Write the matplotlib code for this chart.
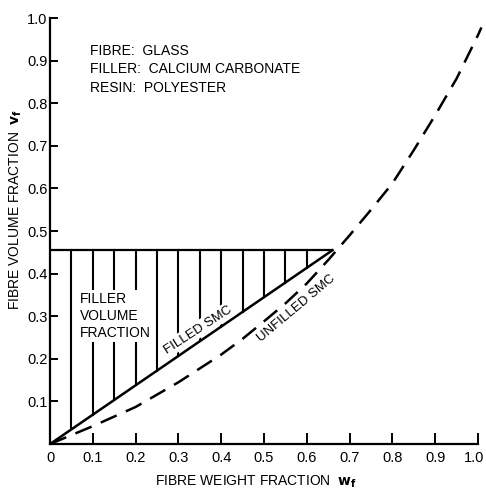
import numpy as np
import matplotlib
matplotlib.use("Agg")
import matplotlib.pyplot as plt
import matplotlib.transforms as mtransforms

plt.rcParams['font.family'] = ['Liberation Sans Narrow', 'Liberation Sans', 'DejaVu Sans']

# unfilled SMC (dashed curve)
unfilled_wf = [0.0, 0.1, 0.2, 0.3, 0.4, 0.45, 0.5, 0.55, 0.6, 0.65, 0.7, 0.75, 0.8,
               0.85, 0.9, 0.95, 1.0, 1.008]
unfilled_vf = [0.0, 0.042, 0.087, 0.145, 0.21, 0.247, 0.288, 0.33, 0.377, 0.432, 0.49, 0.55, 0.612,
               0.69, 0.772, 0.858, 0.96, 0.978]

# filled SMC (solid straight line) and the fibre-volume ceiling
filled_wf = [0.0, 0.66]
filled_vf = [0.0, 0.455]
ceiling_vf = 0.455

# hatch lines marking the filler volume fraction
hatch_wf = [0.05, 0.10, 0.15, 0.20, 0.25, 0.30, 0.35, 0.40, 0.45, 0.50, 0.55, 0.60]

x_ticks = [0.0, 0.1, 0.2, 0.3, 0.4, 0.5, 0.6, 0.7, 0.8, 0.9, 1.0]
x_labels = ['0', '0.1', '0.2', '0.3', '0.4', '0.5', '0.6', '0.7', '0.8', '0.9', '1.0']
y_ticks = [0.1, 0.2, 0.3, 0.4, 0.5, 0.6, 0.7, 0.8, 0.9, 1.0]
y_labels = ['0.1', '0.2', '0.3', '0.4', '0.5', '0.6', '0.7', '0.8', '0.9', '1.0']

fig = plt.figure(figsize=(4.86, 4.97), dpi=100)
ax = fig.add_axes([0.103, 0.1066, 0.8805, 0.857])

ax.set_xlim(0, 1.0)
ax.set_ylim(0, 1.0)

# hatch: from the filled line up to the ceiling
for x in hatch_wf:
    y0 = np.interp(x, filled_wf, filled_vf)
    ax.plot([x, x], [y0, ceiling_vf], color='black', lw=1.5, zorder=2)

ax.plot([0, filled_wf[-1]], [ceiling_vf, ceiling_vf], color='black', lw=1.6, zorder=2)
ax.plot(filled_wf, filled_vf, color='black', lw=1.8, zorder=3)
ax.plot(unfilled_wf, unfilled_vf, color='black', lw=1.8, dashes=(7, 4), zorder=3,
        clip_on=False)

box = dict(facecolor='white', edgecolor='none', pad=1.5)
ax.text(0.093, 0.94, 'FIBRE:  GLASS\nFILLER:  CALCIUM CARBONATE\nRESIN:  POLYESTER',
        fontsize=10, va='top', ha='left', linespacing=1.42)
ax.text(0.07, 0.30, 'FILLER\nVOLUME\nFRACTION', fontsize=10, va='center', ha='left',
        linespacing=1.25, bbox=box, zorder=4)
ax.text(0.345, 0.268, 'FILLED SMC', fontsize=9.5, rotation=33, ha='center', va='center',
        bbox=box, zorder=4)
ax.text(0.575, 0.318, 'UNFILLED SMC', fontsize=9.5, rotation=40, ha='center', va='center',
        zorder=4)

ax.set_xticks(x_ticks)
ax.set_xticklabels(x_labels)
ax.set_yticks(y_ticks)
ax.set_yticklabels(y_labels)
ax.tick_params(axis='x', direction='in', length=8, width=1.4, labelsize=10.5, pad=5)
ax.tick_params(axis='y', direction='in', length=6, width=1.4, labelsize=10.5, pad=2)

# pull the last x tick label in a little so it stays inside the figure
last = ax.get_xticklabels()[-1]
last.set_transform(last.get_transform() +
                   mtransforms.ScaledTranslation(-3 / 72, 0, fig.dpi_scale_trans))

ax.set_xlabel(r'FIBRE WEIGHT FRACTION  $\mathbf{w_f}$', fontsize=10)
ax.set_ylabel(r'FIBRE VOLUME FRACTION  $\mathbf{v_f}$', fontsize=10)
ax.xaxis.set_label_coords(0.48, -0.07)
ax.yaxis.set_label_coords(-0.06, 0.55)

ax.spines['top'].set_visible(False)
ax.spines['right'].set_visible(False)
ax.spines['left'].set_linewidth(1.6)
ax.spines['bottom'].set_linewidth(1.6)

fig.savefig('out.png', dpi=100)
